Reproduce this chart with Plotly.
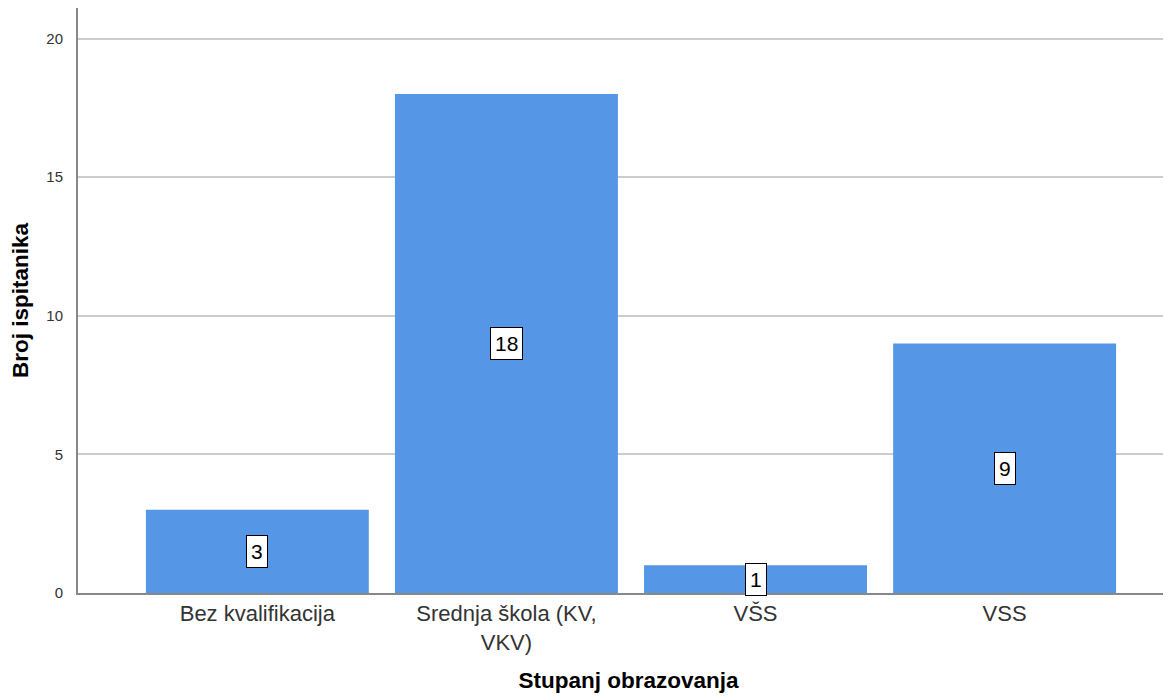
import plotly.graph_objects as go

categories = ["Bez kvalifikacija", "Srednja škola (KV,<br>VKV)", "VŠS", "VSS"]
values = [3, 18, 1, 9]
y_ticks = [0, 5, 10, 15, 20]

fig = go.Figure()
fig.add_trace(go.Bar(
    x=list(range(len(categories))), y=values,
    marker=dict(color="#5596e6", line=dict(width=0)),
    width=0.895,
    showlegend=False,
))

for i, v in enumerate(values):
    fig.add_annotation(
        x=i, y=v / 2, text=str(v), showarrow=False,
        font=dict(family="Liberation Sans, Arial, sans-serif", size=21, color="#000000"),
        bgcolor="#ffffff", bordercolor="#000000", borderwidth=1, borderpad=4,
    )

fig.update_layout(
    width=1171, height=697,
    margin=dict(l=70, r=0, t=0, b=112),
    plot_bgcolor="#ffffff", paper_bgcolor="#ffffff",
    font=dict(family="Liberation Sans, Arial, sans-serif", color="#222222"),
    xaxis=dict(
        tickmode="array", tickvals=list(range(len(categories))), ticktext=categories,
        range=[-0.72, 3.70],
        showgrid=False, zeroline=False,
        showline=True, linecolor="#888888", linewidth=2,
        ticks="", tickfont=dict(size=22, color="#333333"),
        title=dict(text="<b>Stupanj obrazovanja</b>", font=dict(size=22.5, color="#000000"), standoff=18),
    ),
    yaxis=dict(
        range=[0, 21.1], tickvals=y_ticks,
        showgrid=True, gridcolor="#cccccc", gridwidth=1.5,
        zeroline=False,
        showline=True, linecolor="#888888", linewidth=2,
        ticks="", ticklabelstandoff=10, tickfont=dict(size=15, color="#333333"),
        title=dict(text="<b>Broj ispitanika</b>", font=dict(size=22.5, color="#000000"), standoff=18),
    ),
)

fig.write_html("out.html")
